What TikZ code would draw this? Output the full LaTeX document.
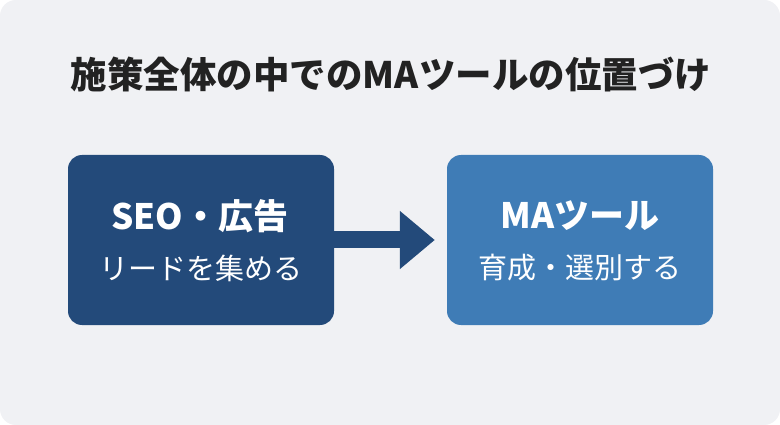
\documentclass[tikz,border=0pt]{standalone}
\usepackage{fontspec}
\setmainfont{Noto Sans CJK JP}
\usetikzlibrary{arrows.meta}

\definecolor{pagebg}{HTML}{F0F1F4}
\definecolor{navy}{HTML}{234A7A}
\definecolor{steel}{HTML}{3F7CB6}
\definecolor{ink}{HTML}{222222}

\tikzset{
    box/.style={rounded corners=14pt, minimum width=266pt, minimum height=170pt, inner sep=0pt},
    head/.style={text=white, font=\bfseries\fontsize{35}{40}\selectfont},
    sub/.style={text=white, font=\fontsize{29}{34}\selectfont},
}

\begin{document}
\begin{tikzpicture}[x=1pt, y=-1pt]
    % Fond
    \fill[white] (0,0) rectangle (780,425);
    \fill[pagebg, rounded corners=16pt] (0,0) rectangle (780,425);
    \useasboundingbox (0,0) rectangle (780,425);

    % Titre
    \node[text=ink, font=\bfseries\fontsize{36.5}{42}\selectfont] (title) at (391,74) {施策全体の中でのMAツールの位置づけ};

    % Blocs
    \node[box, fill=navy] (seo) at (201,240) {};
    \node[box, fill=steel] (ma) at (580,240) {};

    % Textes
    \node[head] (seohead) at (200,216) {SEO・広告};
    \node[sub] (seosub) at (201,268) {リードを集める};
    \node[head] (mahead) at (580,216) {MAツール};
    \node[sub] (masub) at (580,268) {育成・選別する};

    % Flèche
    \draw[navy, line width=17pt, shorten >=12pt, -{Triangle[length=35pt, width=56pt]}] (seo.east) -- (ma.west);
\end{tikzpicture}
\end{document}
